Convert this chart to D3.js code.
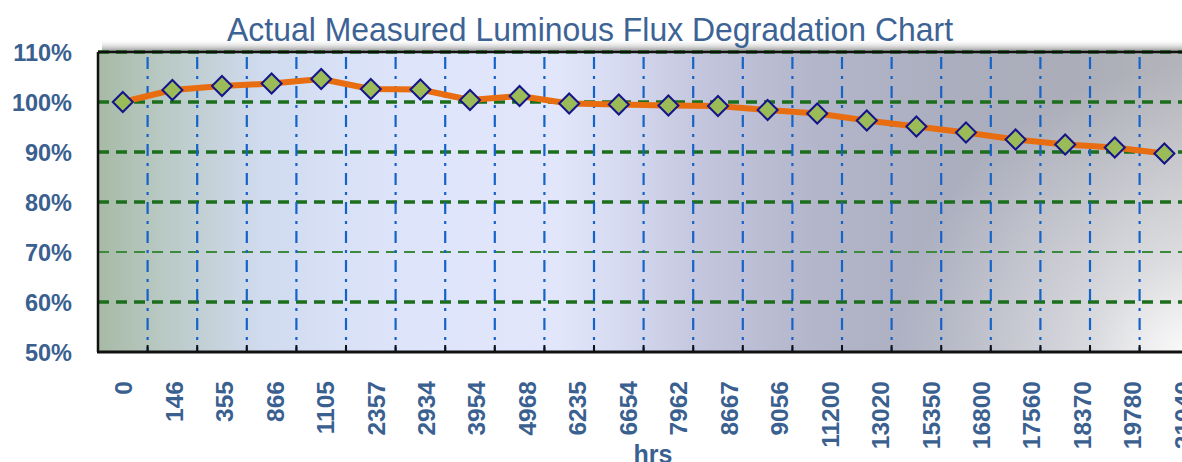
<!DOCTYPE html>
<html><head><meta charset="utf-8">
<script src="https://cdn.jsdelivr.net/npm/d3@7/dist/d3.min.js"></script>
<style>html,body{margin:0;padding:0;background:#fff;overflow:hidden}</style>
</head><body>
<script>
const categories = ["0","146","355","866","1105","2357","2934","3954","4968","6235","6654","7962","8667","9056","11200","13020","15350","16800","17560","18370","19780","21040"];
const values = [100, 102.4, 103.2, 103.7, 104.6, 102.6, 102.5, 100.4, 101.2, 99.7, 99.5, 99.3, 99.2, 98.4, 97.7, 96.3, 95.1, 93.9, 92.5, 91.5, 90.9, 89.7];
const yTicks = [50, 60, 70, 80, 90, 100, 110];
const gridLevels = [60, 70, 80, 90, 100, 110];
const title = "Actual Measured Luminous Flux Degradation Chart";
const xTitle = "hrs";

(function () {
const W = 1182, H = 462;
const pL = 98, pT = 52, pB = 352, pR = 98 + 22 * 49.6;
const svg = d3.select("body").append("svg").attr("width", W).attr("height", H);
const defs = svg.append("defs");

const bg = defs.append("linearGradient").attr("id","bg").attr("gradientUnits","userSpaceOnUse")
  .attr("x1", pL).attr("x2", pR).attr("y1",0).attr("y2",0);
[[0,"#a7baa5"],[0.06,"#b9c9c4"],[0.15,"#d0dbef"],[0.27,"#dde4fa"],[0.42,"#e2e6fb"],[0.48,"#d6daf0"],[0.56,"#c1c4db"],[0.66,"#b3b6ca"],[0.78,"#abaebe"],[0.9,"#abadb8"],[1,"#b4b5bb"]]
  .forEach(([o,c]) => bg.append("stop").attr("offset", o).attr("stop-color", c));
const hl = defs.append("radialGradient").attr("id","hl").attr("gradientUnits","userSpaceOnUse")
  .attr("cx", 1195).attr("cy", 365).attr("r", 300);
hl.append("stop").attr("offset",0).attr("stop-color","#ffffff").attr("stop-opacity",1);
hl.append("stop").attr("offset",0.35).attr("stop-color","#ffffff").attr("stop-opacity",0.55);
hl.append("stop").attr("offset",1).attr("stop-color","#ffffff").attr("stop-opacity",0);
const sh = defs.append("linearGradient").attr("id","sh").attr("x1",0).attr("x2",0).attr("y1",0).attr("y2",1);
sh.append("stop").attr("offset",0).attr("stop-color","#ffffff").attr("stop-opacity",0);
sh.append("stop").attr("offset",1).attr("stop-color","#8a8a8a").attr("stop-opacity",1);

const x = d3.scaleBand().domain(categories).range([pL, pR]);
const y = d3.scaleLinear().domain([50, 110]).range([pB, pT]);
// category labels in the reference are spread slightly wider than the bands
const xl = d3.scalePoint().domain(categories).range([pL + 25, pL + 25 + 21 * 50.45]);

svg.append("rect").attr("x", pL + 4).attr("y", pT - 13).attr("width", W - pL).attr("height", 13).attr("fill","url(#sh)");
svg.append("rect").attr("x", pL).attr("y", pT).attr("width", pR - pL).attr("height", pB - pT).attr("fill","url(#bg)");
svg.append("rect").attr("x", pL).attr("y", pT).attr("width", pR - pL).attr("height", pB - pT).attr("fill","url(#hl)");

svg.append("g").selectAll("line").data(gridLevels).join("line")
  .attr("x1", pL).attr("x2", pR).attr("y1", d => y(d)).attr("y2", d => y(d))
  .attr("stroke", d => d === 70 ? "#3d8a3d" : "#1b6e1b")
  .attr("stroke-width", d => d === 70 ? 2 : 3.5)
  .attr("stroke-dasharray", "11,7");

const bounds = categories.slice(1).map(c => x(c));
bounds.push(x(categories[categories.length-1]) + x.bandwidth());
svg.append("g").selectAll("line").data(bounds).join("line")
  .attr("x1", d => d).attr("x2", d => d).attr("y1", pT).attr("y2", pB)
  .attr("stroke", "#1463c8").attr("stroke-width", 2.2)
  .attr("stroke-dasharray", "12,7,3,7").attr("stroke-dashoffset", -5);

svg.append("line").attr("x1", pL).attr("x2", W).attr("y1", pT).attr("y2", pT).attr("stroke","#111").attr("stroke-width",2.5);
svg.append("line").attr("x1", pL).attr("x2", pL).attr("y1", pT).attr("y2", pB).attr("stroke","#111").attr("stroke-width",2.5);

const xAxis = d3.axisBottom(xl).tickSize(0).tickFormat(d => d);
const gx = svg.append("g").attr("transform", `translate(0,${pB})`).call(xAxis);
gx.select(".domain").remove();
gx.selectAll("text")
  .attr("transform", "rotate(-90)")
  .attr("x", -29).attr("y", 0).attr("dy", "0.36em")
  .attr("text-anchor", "end")
  .attr("font-family", "'Liberation Sans', Arial, sans-serif").attr("font-weight", "bold")
  .attr("font-size", 24.5).attr("fill", "#3a6090");
svg.append("g").selectAll("line").data(bounds).join("line")
  .attr("x1", d => d).attr("x2", d => d).attr("y1", pB).attr("y2", pB - 7)
  .attr("stroke", "#111").attr("stroke-width", 2);
svg.append("line").attr("x1", pL - 1).attr("x2", W).attr("y1", pB).attr("y2", pB).attr("stroke","#111").attr("stroke-width",3);

const yAxis = d3.axisLeft(y).tickValues(yTicks).tickSize(0).tickFormat(d => d + "%");
const gy = svg.append("g").attr("transform", `translate(${pL - 26},0)`).call(yAxis);
gy.select(".domain").remove();
gy.selectAll("text").attr("x", 0).attr("dy", "0.36em")
  .attr("font-family", "'Liberation Sans', Arial, sans-serif").attr("font-weight", "bold")
  .attr("font-size", 23.5).attr("fill", "#3a6090");

const cx = c => x(c) + x.bandwidth() / 2;
svg.append("path").datum(values)
  .attr("d", d3.line().x((d, i) => cx(categories[i])).y(d => y(d)))
  .attr("fill", "none").attr("stroke", "#e86d10").attr("stroke-width", 6).attr("stroke-linejoin","round");
svg.append("g").selectAll("path").data(values).join("path")
  .attr("transform", (d, i) => `translate(${cx(categories[i])},${y(d)})`)
  .attr("d", "M0,-10L10,0L0,10L-10,0Z")
  .attr("fill", "#9bbb59").attr("stroke", "#14148a").attr("stroke-width", 2);

svg.append("text").attr("x", 590).attr("y", 41).attr("text-anchor","middle")
  .attr("font-family", "'Liberation Sans Narrow', 'Arial Narrow', 'Liberation Sans', Arial, sans-serif")
  .attr("font-size", 33).attr("fill", "#3d6395")
  .attr("textLength", 726).attr("lengthAdjust", "spacingAndGlyphs")
  .text(title);
svg.append("text").attr("x", 653).attr("y", 463).attr("text-anchor","middle")
  .attr("font-family", "'Liberation Sans', Arial, sans-serif").attr("font-weight","bold")
  .attr("font-size", 25).attr("fill", "#3a6090").text(xTitle);
})();
</script>
</body></html>
